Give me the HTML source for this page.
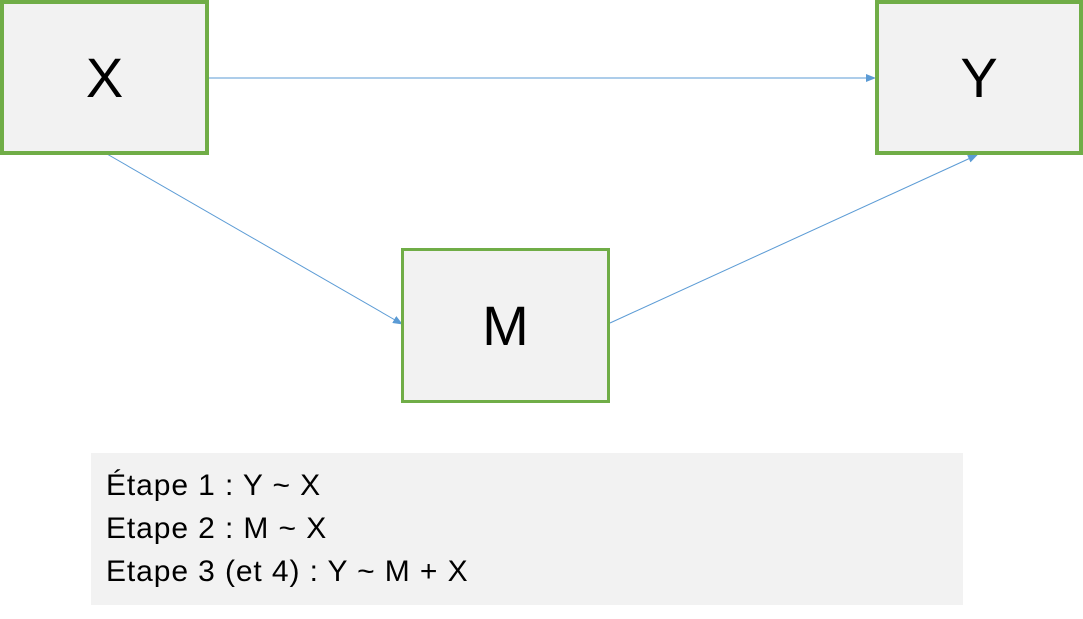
<!DOCTYPE html>
<html><head><style>
body{margin:0;width:1083px;height:619px;background:#fff;position:relative;overflow:hidden;font-family:"Liberation Sans",sans-serif}
.b{position:absolute;box-sizing:border-box;background:#f2f2f2;border:4px solid #70ad47;display:flex;align-items:center;justify-content:center;font-size:56px;color:#000}
.t{position:absolute;left:91px;top:453px;width:872px;height:152px;background:#f2f2f2;font-size:30px;letter-spacing:0.9px;line-height:43px;padding:11px 0 0 15px;box-sizing:border-box;color:#000}
</style></head><body>
<svg width="1083" height="619" style="position:absolute;left:0;top:0">
<defs><marker id="a" markerWidth="10" markerHeight="8" refX="9" refY="4" orient="auto" markerUnits="userSpaceOnUse"><path d="M0,0 L10,4 L0,8z" fill="#5b9bd5"/></marker></defs>
<g stroke="#5b9bd5" stroke-width="1" fill="none">
<line x1="208" y1="78" x2="875" y2="78" marker-end="url(#a)"/>
<line x1="107" y1="154" x2="402" y2="324" marker-end="url(#a)"/>
<line x1="610" y1="323" x2="977" y2="155" marker-end="url(#a)"/>
</g></svg>
<div class="b" style="left:0;top:0;width:209px;height:155px">X</div>
<div class="b" style="left:875px;top:0;width:208px;height:155px">Y</div>
<div class="b" style="left:401px;top:248px;width:209px;height:155px;border-width:3px">M</div>
<div class="t">Étape 1 : Y ~ X<br>Etape 2 : M ~ X<br>Etape 3 (et 4) : Y ~ M + X</div>
</body></html>
